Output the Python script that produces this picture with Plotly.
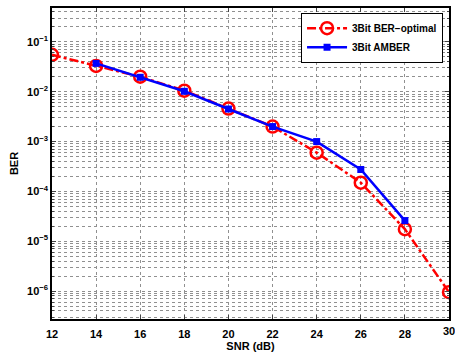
import plotly.graph_objects as go
import numpy as np

snr_opt = [12, 14, 16, 18, 20, 22, 24, 26, 28, 30]
ber_opt = [0.055, 0.033, 0.02, 0.0105, 0.0046, 0.002, 6.0e-4, 1.5e-4, 1.75e-5, 9.5e-7]
snr_amb = [14, 16, 18, 20, 22, 24, 26, 28]
ber_amb = [0.037, 0.0195, 0.0102, 0.0045, 0.002, 1.0e-3, 2.75e-4, 2.6e-5]
xticks = [12, 14, 16, 18, 20, 22, 24, 26, 28, 30]
yexp = [-6, -5, -4, -3, -2, -1]

font = dict(family="Liberation Sans, Arial", size=11, color="black")

fig = go.Figure()
fig.add_trace(go.Scatter(
    x=snr_opt, y=ber_opt, name="<b>3Bit BER\u2212optimal</b>", mode="lines+markers",
    line=dict(color="#ff0000", width=2.5, dash="dashdot"),
    marker=dict(symbol="circle-open", size=12, color="#ff0000", line=dict(width=2.5, color="#ff0000"))))
fig.add_trace(go.Scatter(
    x=snr_amb, y=ber_amb, name="<b>3Bit AMBER</b>", mode="lines+markers",
    line=dict(color="#0000ff", width=2.5),
    marker=dict(symbol="square", size=7, color="#0000ff")))

# last tick label would overflow the page edge (plotly hides it), draw it as annotation
ticktext = [f"<b>{v}</b>" for v in xticks[:-1]] + [""]

grid = dict(showgrid=True, gridcolor="#909090", griddash="dot", gridwidth=1)
fig.update_xaxes(range=[12, 30], tickvals=xticks, ticktext=ticktext,
                 ticks="inside", ticklen=4, showline=True, linecolor="black", linewidth=1.5,
                 mirror="ticks", zeroline=False, ticklabelstandoff=4,
                 title=dict(text="<b>SNR (dB)</b>", font=font, standoff=0), **grid)
fig.update_yaxes(type="log", range=[-6.56, -0.32],
                 tickvals=[10.0 ** e for e in yexp],
                 ticktext=[f"<b>10<sup>\u2212{-e}</sup></b>" for e in yexp],
                 ticks="inside", ticklen=4, showline=True, linecolor="black", linewidth=1.5,
                 mirror="ticks", zeroline=False,
                 minor=dict(showgrid=True, gridcolor="#909090", griddash="dot", ticks="inside", ticklen=2,
                            tickvals=[m * 10.0 ** e for e in range(-7, 0) for m in range(2, 10)]),
                 title=dict(text="<b>BER</b>", font=font, standoff=6), **grid)
fig.add_annotation(x=xticks[-1], xref="x", y=0, yref="paper", yanchor="top", xanchor="center",
                   yshift=-4, text=f"<b>{xticks[-1]}</b>", showarrow=False, font=font)
fig.update_layout(
    width=455, height=352, margin=dict(l=52, r=4, t=8, b=31),
    paper_bgcolor="white", plot_bgcolor="white", font=font,
    showlegend=True,
    legend=dict(x=0.985, y=0.985, xanchor="right", yanchor="top", bgcolor="white",
                bordercolor="black", borderwidth=1, font=dict(size=10), tracegroupgap=0,
                itemwidth=40),
)
fig.write_html("out.html")
